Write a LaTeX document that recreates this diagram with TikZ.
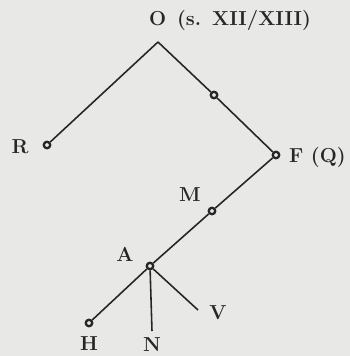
\documentclass[tikz,border=0pt]{standalone}
\usetikzlibrary{positioning}
\definecolor{stpaper}{HTML}{E8E8E7}
\definecolor{stink}{HTML}{262626}
\tikzset{
  stwit/.style={
    circle, draw=stink, fill=stpaper, line width=1.3pt,
    minimum size=0.13cm, inner sep=0pt},
  stline/.style={draw=stink, line width=0.9pt},
  stlabel/.style={font=\fontsize{11.5}{13}\selectfont\bfseries,
    text=stink, inner sep=1pt},
}

\begin{document}
\begin{tikzpicture}[x=0.02cm, y=-0.02cm]

% Paper.
\fill[stpaper] (0, 0) rectangle (350, 356);
\useasboundingbox (0, 0) rectangle (350, 356);

% Archetype and its date.
\node[stlabel, anchor=west] (o) at (147, 20) {O\ \,(s.\ \,XII/XIII)};
\coordinate (top) at (158, 42);

% Witnesses and lost intermediaries.
\node[stwit] (r) at (47, 145) {};
\node[stwit] (x) at (214, 95) {};
\node[stwit] (f) at (276, 155) {};
\node[stwit] (m) at (212, 211) {};
\node[stwit] (a) at (150, 266) {};
\node[stwit] (h) at (89, 323) {};
\coordinate (n) at (152, 331);
\coordinate (v) at (198, 310);

% Sigla.
\node[stlabel] (rl) at (20, 147) {R};
\node[stlabel, anchor=west] (fl) at (287, 157) {F\ (Q)};
\node[stlabel] (ml) at (190, 195) {M};
\node[stlabel] (al) at (125, 254) {A};
\node[stlabel] (hl) at (89, 344) {H};
\node[stlabel] (nl) at (152, 345) {N};
\node[stlabel] (vl) at (218, 313) {V};

% Filiation.
\draw[stline] (top) -- (r);
\draw[stline] (top) -- (x) -- (f);
\draw[stline] (f) -- (m) -- (a);
\draw[stline] (a) -- (h);
\draw[stline] (a) -- (n);
\draw[stline] (a) -- (v);

\end{tikzpicture}
\end{document}
